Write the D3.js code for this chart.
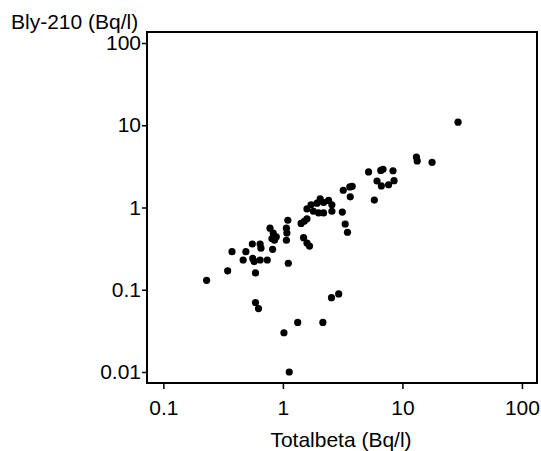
<!DOCTYPE html>
<html>
<head>
<meta charset="utf-8">
<script src="https://cdn.jsdelivr.net/npm/d3@7"></script>
<style>
  body { margin: 0; background: #fff; }
  text { font-family: "Liberation Sans", Arial, sans-serif; }
</style>
</head>
<body>
<div id="chart"></div>
<script>
// Totalbeta (Bq/l) values
const totalbeta = [
  0.23, 0.345, 0.375, 0.465, 0.49, 0.555, 0.56, 0.575, 0.645, 0.655,
  0.645, 0.74, 0.59, 0.59, 0.625, 0.82, 0.78, 0.83, 0.81, 0.88,
  1.1, 1.07, 1.08, 1.07, 1.11, 1.02, 1.33, 2.16, 2.55, 2.93,
  1.13, 1.42, 1.51, 1.59, 1.49, 1.59, 1.67, 1.59, 1.72, 1.93,
  2.05, 2.19, 2.41, 2.57, 2.57, 2.19, 1.99, 1.80, 3.14, 3.32,
  3.47, 3.2, 3.63, 3.8, 3.66, 5.21, 6.59, 6.88, 8.34, 6.13,
  6.66, 7.66, 8.51, 5.82, 13.1, 13.3, 17.7, 29.2, 0.85
];
// Bly-210 (Bq/l) values, same order
const bly210 = [
  0.13, 0.17, 0.29, 0.23, 0.29, 0.36, 0.24, 0.22, 0.36, 0.32,
  0.23, 0.23, 0.16, 0.07, 0.059, 0.31, 0.56, 0.49, 0.42, 0.44,
  0.70, 0.56, 0.49, 0.40, 0.21, 0.03, 0.04, 0.04, 0.08, 0.089,
  0.01, 0.64, 0.68, 0.73, 0.43, 0.37, 0.34, 0.96, 1.08, 1.13,
  1.27, 1.15, 1.22, 1.08, 0.90, 0.86, 0.86, 0.90, 0.88, 0.63,
  0.50, 1.62, 1.78, 1.81, 1.35, 2.71, 2.82, 2.92, 2.80, 2.10,
  1.83, 1.89, 2.12, 1.23, 4.11, 3.68, 3.54, 10.9, 0.40
];
const xTicks = [0.1, 1, 10, 100];
const yTicks = [0.01, 0.1, 1, 10, 100];

const points = totalbeta.map((x, i) => ({ x: x, y: bly210[i] }));

const W = 541, H = 451;
const plot = { left: 147, right: 537, top: 32, bottom: 383 };
const fontSize = 21;

const svg = d3.select("#chart").append("svg")
  .attr("width", W)
  .attr("height", H);

const x = d3.scaleLog()
  .domain([Math.pow(10, -1.137), Math.pow(10, 2.126)])
  .range([plot.left, plot.right]);
const y = d3.scaleLog()
  .domain([Math.pow(10, -2.134), Math.pow(10, 2.134)])
  .range([plot.bottom, plot.top]);

const fmt = d => String(d);

// x axis
const xAxis = svg.append("g")
  .attr("transform", `translate(0,${plot.bottom})`)
  .call(d3.axisBottom(x).tickValues(xTicks).tickFormat(fmt).tickSize(6).tickPadding(11));
xAxis.select(".domain").remove();
xAxis.selectAll("line").attr("stroke", "#000").attr("stroke-width", 1.5);
xAxis.selectAll("text").attr("font-size", fontSize).attr("fill", "#000")
  .attr("font-family", "'Liberation Sans', Arial, sans-serif");

// y axis
const yAxis = svg.append("g")
  .attr("transform", `translate(${plot.left},0)`)
  .call(d3.axisLeft(y).tickValues(yTicks).tickFormat(fmt).tickSize(5).tickPadding(1));
yAxis.select(".domain").remove();
yAxis.selectAll("line").attr("stroke", "#000").attr("stroke-width", 1.5);
yAxis.selectAll("text").attr("font-size", fontSize).attr("fill", "#000")
  .attr("font-family", "'Liberation Sans', Arial, sans-serif");

// frame
svg.append("rect")
  .attr("x", plot.left)
  .attr("y", plot.top)
  .attr("width", plot.right - plot.left)
  .attr("height", plot.bottom - plot.top)
  .attr("fill", "none")
  .attr("stroke", "#000")
  .attr("stroke-width", 2);

// points
svg.append("g").selectAll("circle")
  .data(points)
  .enter().append("circle")
  .attr("cx", d => x(d.x))
  .attr("cy", d => y(d.y))
  .attr("r", 3.6)
  .attr("fill", "#000");

// titles
svg.append("text")
  .attr("x", 11)
  .attr("y", 29)
  .attr("font-size", fontSize)
  .text("Bly-210 (Bq/l)");

svg.append("text")
  .attr("x", 341)
  .attr("y", 447)
  .attr("text-anchor", "middle")
  .attr("font-size", fontSize)
  .text("Totalbeta (Bq/l)");
</script>
</body>
</html>
